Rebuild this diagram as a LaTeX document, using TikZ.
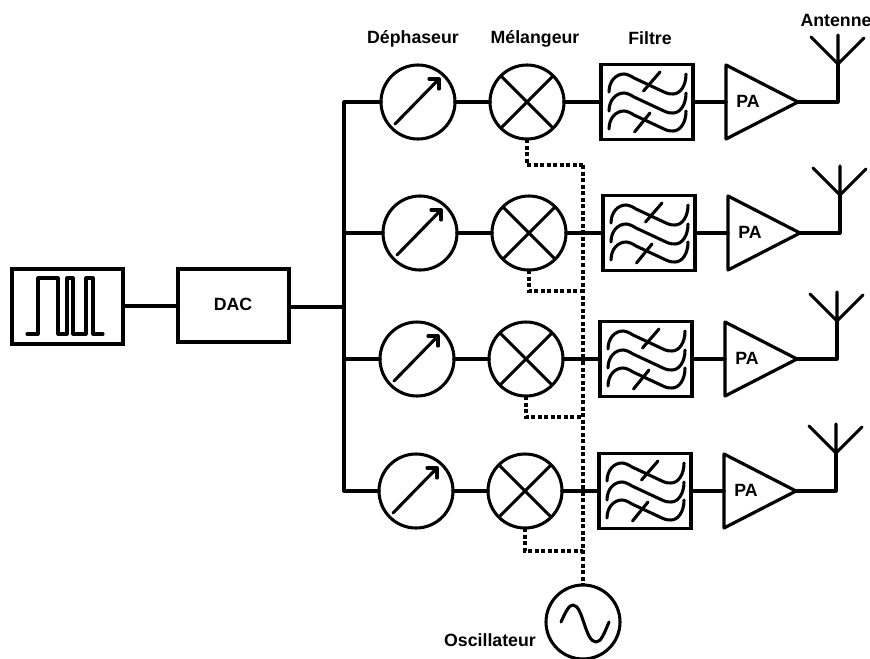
\documentclass[tikz,border=0pt]{standalone}
\usepackage{fontspec}
\setmainfont{Liberation Sans}
\tikzset{
  x=.75pt,y=-.75pt,
  wire/.style={line width=2.4pt,line join=round,line cap=round},
  thin wire/.style={line width=2.3pt,line join=round,line cap=round},
  dotwire/.style={line width=2.3pt,dash pattern=on 3pt off 1.9pt},
  disc/.style={circle,draw,line width=2.3pt,minimum size=55.5pt,inner sep=0pt,outer sep=0pt},
  block/.style={rectangle,draw,line width=2.3pt,inner sep=0pt,outer sep=0pt},
  lbl/.style={font=\bfseries\fontsize{13.3pt}{15pt}\selectfont,inner sep=0pt,text=black},
}
\begin{document}
\begin{tikzpicture}
\path[use as bounding box] (0,0) rectangle (870,658);
\clip (0,0) rectangle (870,658);
% source and DAC
\node[block,minimum width=83.25pt,minimum height=56.25pt] (src) at (67.5,306.5) {};
\node[block,minimum width=83.25pt,minimum height=54.75pt] (dac) at (233.5,305.5) {};
\node[lbl] (daclbl) at (233,304.5) {DAC};
\draw[thin wire] (27,334)--(38,334)--(38,278)--(58,278)--(58,334)--(67,334)--(67,278)--(73,278)--(73,334)--(86,334)--(86,278)--(93,278)--(93,334)--(103,334);
\draw[wire,line width=3pt] (src.east |- 0,306) -- (dac.west |- 0,306);
\coordinate (busmid) at (344,307);
\draw[wire] (dac.east |- busmid) -- (busmid);
% rows
\foreach \i/\dx/\cy in {1/0/102,2/2/233,3/-1/359,4/-2/491}{
\begin{scope}[shift={(\dx,\cy)}]
  \node[disc] (ph\i) at (418,0) {};
  \node[disc] (mx\i) at (527,0) {};
  \node[block,minimum width=69pt,minimum height=56.25pt] (fl\i) at (647,0) {};
  \coordinate (pain\i) at (726,0);
  \coordinate (paout\i) at (798,0);
  \coordinate (ant\i) at (838,0);
  \coordinate (jn\i) at (838,-38);
  \draw[wire] (pain\i)--(726,-37)--(paout\i)--(726,37)--cycle;
  \node[lbl] (palbl\i) at (748,-1) {PA};
  % phase arrow
  \draw[thin wire] (395,22)--(439,-23);
  \draw[thin wire] (429,-23)--(439,-23)--(439,-13);
  % mixer cross
  \draw[thin wire] (501,-26)--(553,26) (501,26)--(553,-26);
  % connectors
  \draw[wire] (ph\i)--(mx\i);
  \draw[wire] (mx\i)--(fl\i);
  \draw[wire] (fl\i)--(pain\i);
  \draw[wire] (paout\i)--(ant\i)--(jn\i);
  \draw[thin wire] (jn\i)--(811,-65) (jn\i)--(864,-64) (jn\i)--(838,-67);
  % filter symbol
  \foreach \o in {0,19,37}{
    \begin{scope}[shift={(601,-38+\o)}]
      \draw[thin wire] (8,28) .. controls (8,17) and (15,10) .. (23,10) .. controls (26,10) and (30,12) .. (33,14) -- (63,28) .. controls (67,30) and (70,30) .. (72,30) .. controls (79,30) and (85,22) .. (85,10);
    \end{scope}
  }
  \draw[thin wire] (660,-30)--(643.5,-11) (650,11)--(634.5,30);
\end{scope}
}
% bus
\coordinate (bustop) at (344,102);
\coordinate (busbot) at (344,491);
\draw[wire] (bustop)--(busbot);
\draw[wire] (bustop)--(ph1);
\coordinate (b2) at (344,233);
\coordinate (b3) at (344,359);
\draw[wire] (b2) -- (ph2);
\draw[wire] (b3) -- (ph3);
\draw[wire] (busbot)--(ph4);
% oscillator
\node[disc] (osc) at (583,622) {};
\draw[thin wire] (561,622) .. controls (566,611) and (569,605) .. (573,605) .. controls (583,605) and (585,642) .. (596,642) .. controls (601,642) and (604,634) .. (609,622);
\coordinate (lotop) at (583,165);
\draw[dotwire] (lotop)--(osc);
\draw[dotwire] (mx1.south) -- (mx1.south |- lotop) -- (lotop);
\coordinate (lo2) at (583,291);
\coordinate (lo3) at (583,417);
\coordinate (lo4) at (583,551);
\draw[dotwire] (mx2.south) -- (mx2.south |- lo2) -- (lo2);
\draw[dotwire] (mx3.south) -- (mx3.south |- lo3) -- (lo3);
\draw[dotwire] (mx4.south) -- (mx4.south |- lo4) -- (lo4);
% labels
\node[lbl] (l1) at (413,39) {Déphaseur};
\node[lbl] (l2) at (535,39) {Mélangeur};
\node[lbl] (l3) at (650,38) {Filtre};
\node[lbl] (l4) at (836,20) {Antenne};
\node[lbl] (l5) at (490,640) {Oscillateur};
\end{tikzpicture}
\end{document}
